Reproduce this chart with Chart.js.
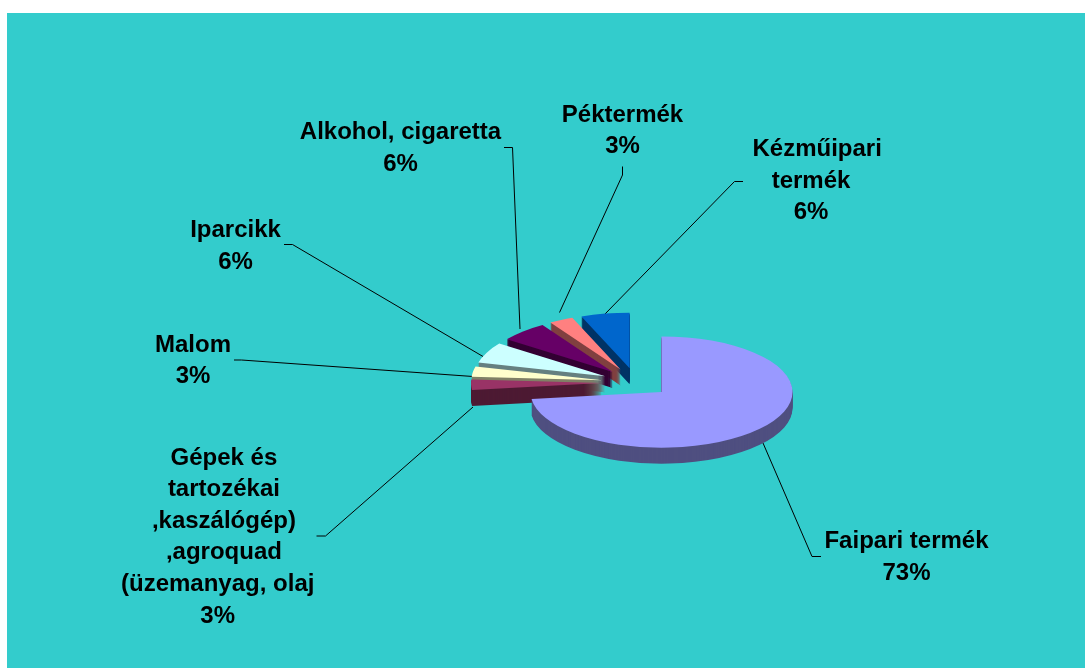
<!DOCTYPE html>
<html>
<head>
<meta charset="utf-8">
<title>Termékek</title>
<script src="https://cdn.jsdelivr.net/npm/chart.js@4/dist/chart.umd.min.js"></script>
<style>
    html, body { margin: 0; padding: 0; background: #fff; overflow: hidden; }
    #panel { position: absolute; left: 7px; top: 13px; right: 0; bottom: 0; background: #33CCCC; }
    #wrap { position: absolute; left: 0; top: 0; width: 1085px; height: 668px; }
</style>
</head>
<body>
<div id="panel"></div>
<div id="wrap"><canvas id="pieChart" width="1085" height="668"></canvas></div>
<script>
const categories = [
    ['Faipari termék'],
    ['Gépek és', 'tartozékai', ',kaszálógép)', ',agroquad', '(üzemanyag, olaj'],
    ['Malom'],
    ['Iparcikk'],
    ['Alkohol, cigaretta'],
    ['Péktermék'],
    ['Kézműipari', 'termék']
];
const shares = [73, 3, 3, 6, 6, 3, 6];

const topColors = ['#9999FF', '#993366', '#FFFFCC', '#CCFFFF', '#660066', '#FF8080', '#0066CC'];
const sideColors = ['#4F4F80', '#4D1A33', '#808066', '#668080', '#330033', '#804040', '#003366'];

// label placement: centre x, first baseline y
const labelSpots = [
    [906.5, 548], [217.7, 464.5], [193, 351.5], [235.5, 237], [400.5, 139], [622.5, 121.5], [811, 156]
];
// the first lines of these labels sit a little to the right of the rest
const nudgedLines = [0, 4, 0, 0, 0, 0, 1];
const nudge = 6.2;
// leader lines, from the slice out to the label
const leaders = [
    [[763, 443], [812, 556.5], [821, 556.5]],
    [[473, 407], [325.5, 536], [316.5, 536]],
    [[473, 376.5], [241.5, 360], [234, 360]],
    [[483, 356.5], [292.5, 244.5], [284, 244.5]],
    [[520, 329], [512.5, 147.5], [504, 147.5]],
    [[559.5, 312.5], [622.5, 175], [622.5, 166.5]],
    [[605, 314], [734.5, 181.5], [743, 181.5]]
];

const pieRadius = 131;
const squash = 0.425;  // tilt of the pie
const depth = 16;      // thickness in screen pixels
const lineGap = 31.6;
const explode = 34;    // how far every slice is pulled out

const tiltPlugin = {
    id: 'tilt',
    afterDatasetsUpdate(chart) {
        // the offset option of ArcElement narrows small slices, so pull them out here instead
        chart.getDatasetMeta(0).data.forEach(arc => {
            const mid = (arc.startAngle + arc.endAngle) / 2;
            arc.x += Math.cos(mid) * explode;
            arc.y += Math.sin(mid) * explode;
        });
    },
    beforeDatasetsDraw(chart) {
        const ctx = chart.ctx;
        const arcs = chart.getDatasetMeta(0).data;
        const cy = (chart.chartArea.top + chart.chartArea.bottom) / 2;

        ctx.save();
        ctx.strokeStyle = '#000';
        ctx.lineWidth = 1;
        leaders.forEach(pts => {
            ctx.beginPath();
            pts.forEach((p, i) => i ? ctx.lineTo(p[0], p[1]) : ctx.moveTo(p[0], p[1]));
            ctx.stroke();
        });
        ctx.restore();

        ctx.save();
        ctx.translate(0, cy);
        ctx.scale(1, squash);
        ctx.translate(0, -cy);

        // side walls first, the library paints the tops over them afterwards
        for (let i = arcs.length - 1; i >= 0; i--) {
            const arc = arcs[i];
            const saved = arc.options;
            arc.options = { ...saved, backgroundColor: sideColors[i] };
            for (let d = depth; d > 0; d--) {
                ctx.save();
                ctx.translate(0, d / squash);
                arc.draw(ctx);
                ctx.restore();
            }
            arc.options = saved;
        }
    },
    afterDatasetsDraw(chart) {
        const ctx = chart.ctx;
        ctx.restore();

        ctx.save();
        ctx.fillStyle = '#000';
        ctx.font = 'bold 24px "Liberation Sans", Arial, sans-serif';
        ctx.textAlign = 'center';
        ctx.textBaseline = 'alphabetic';
        categories.forEach((lines, i) => {
            const [x, y] = labelSpots[i];
            lines.concat(shares[i] + '%').forEach((line, n) => {
                ctx.fillText(line, x + (n < nudgedLines[i] ? nudge : 0), y + n * lineGap);
            });
        });
        ctx.restore();
    }
};

new Chart(document.getElementById('pieChart'), {
    type: 'pie',
    data: {
        labels: categories.map(c => c.join(' ')),
        datasets: [{
            data: shares,
            backgroundColor: topColors,
            borderWidth: 0,
            clip: false
        }]
    },
    options: {
        responsive: false,
        animation: false,
        events: [],
        radius: pieRadius,
        layout: { padding: { left: 187, top: 97 } },
        plugins: {
            legend: { display: false },
            tooltip: { enabled: false }
        }
    },
    plugins: [tiltPlugin]
});
</script>
</body>
</html>
